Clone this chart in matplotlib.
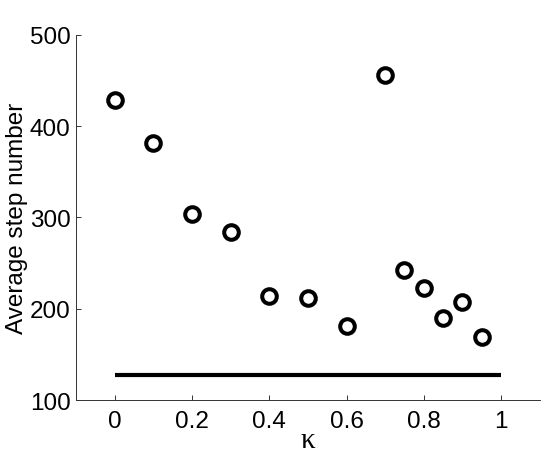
import matplotlib
matplotlib.use("Agg")
import matplotlib.pyplot as plt

kappa = [0.0, 0.1, 0.2, 0.3, 0.4, 0.5, 0.6, 0.7, 0.75, 0.8, 0.85, 0.9, 0.95]
avg_steps = [429, 381, 304, 284, 214, 212, 181, 456, 242.5, 223, 189.5, 207.5, 169]
baseline_x = [0.0, 1.0]
baseline_y = [127.5, 127.5]
xticks = [0, 0.2, 0.4, 0.6, 0.8, 1]
xticklabels = ["0", "0.2", "0.4", "0.6", "0.8", "1"]
yticks = [100, 200, 300, 400, 500]

plt.rcParams['font.family'] = ['Liberation Sans', 'DejaVu Sans']

fig = plt.figure(figsize=(5.45, 4.52), dpi=100)
ax = fig.add_axes([0.1394, 0.1128, 0.851, 0.808])

ax.plot(baseline_x, baseline_y, color='black', linewidth=3.0, solid_capstyle='butt')
ax.plot(kappa, avg_steps, linestyle='none', marker='o', markersize=10.5,
        markerfacecolor='white', markeredgecolor='black', markeredgewidth=2.9)

ax.set_xlim(-0.1, 1.1)
ax.set_ylim(100, 500)
ax.set_xticks(xticks)
ax.set_xticklabels(xticklabels)
ax.set_yticks(yticks)

for s in ['top', 'right']:
    ax.spines[s].set_visible(False)
for s in ['left', 'bottom']:
    ax.spines[s].set_linewidth(0.7)
    ax.spines[s].set_color('#333333')

ax.tick_params(direction='in', length=3.5, width=0.7, labelsize=17.5, color='#333333')
ax.tick_params(axis='y', pad=4)
ax.tick_params(axis='x', pad=7)

ax.set_ylabel("Average step number", fontsize=17.5)
ax.yaxis.set_label_coords(-0.103, 0.5)
ax.set_xlabel("κ", fontsize=21, family=['Liberation Serif', 'DejaVu Serif'])
ax.xaxis.set_label_coords(0.5, -0.075)

fig.savefig("out.png", dpi=100)
